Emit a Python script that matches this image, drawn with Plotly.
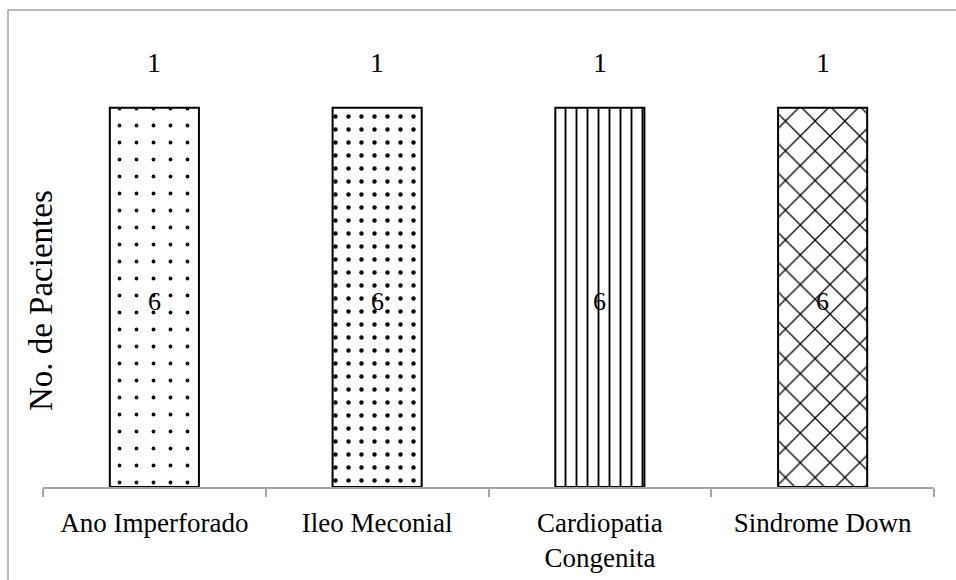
import plotly.graph_objects as go

categories = ["Ano Imperforado", "Ileo Meconial", "Cardiopatia<br>Congenita", "Sindrome Down"]
values = [1, 1, 1, 1]
top_labels = ["1", "1", "1", "1"]
inner_labels = ["6", "6", "6", "6"]

FONT = "Liberation Serif"

fig = go.Figure()
fig.add_trace(go.Bar(
    x=categories, y=values, width=0.4,
    marker=dict(
        color="white",
        line=dict(color="black", width=2),
        pattern=dict(
            shape=[".", ".", "|", "x"],
            size=[17, 13, 11, 21],
            solidity=[0.04, 0.09, 0.17, 0.12],
            fgcolor="black", bgcolor="white", fgopacity=1, fillmode="overlay",
        ),
    ),
    hoverinfo="skip",
))

for c, v, t, i in zip(categories, values, top_labels, inner_labels):
    fig.add_annotation(x=c, y=v, text=t, showarrow=False, yshift=45,
                       font=dict(family=FONT, size=28, color="black"))
    fig.add_annotation(x=c, y=v / 2, text=i, showarrow=False, yshift=-4,
                       font=dict(family=FONT, size=26, color="black"))

fig.add_annotation(xref="paper", yref="paper", x=-0.0015, y=0.41,
                   text="No. de Pacientes", textangle=-90, showarrow=False,
                   xanchor="center", yanchor="middle",
                   font=dict(family=FONT, size=33, color="black"))

# outer chart border (left/top visible)
fig.add_shape(type="rect", xref="paper", yref="paper",
              x0=-0.0393, y0=-1, x1=2, y1=1.0484,
              line=dict(color="#a6a6a6", width=1.5), layer="below")

fig.update_layout(
    width=956, height=580,
    margin=dict(l=43, r=22, t=32, b=93, autoexpand=False),
    plot_bgcolor="white", paper_bgcolor="white",
    showlegend=False,
    font=dict(family=FONT, size=27, color="black"),
)
fig.update_xaxes(
    showline=True, linecolor="#a6a6a6", linewidth=1.5,
    ticks="outside", tickson="boundaries", ticklen=8, tickcolor="#a6a6a6", tickwidth=1.5,
    showgrid=False, tickfont=dict(family=FONT, size=27, color="black"),
    ticklabelstandoff=11, automargin=False,
    range=[-0.5, 3.5],
)
fig.update_yaxes(visible=False, range=[0, 1.2], showgrid=False)

fig.write_html("out.html")
